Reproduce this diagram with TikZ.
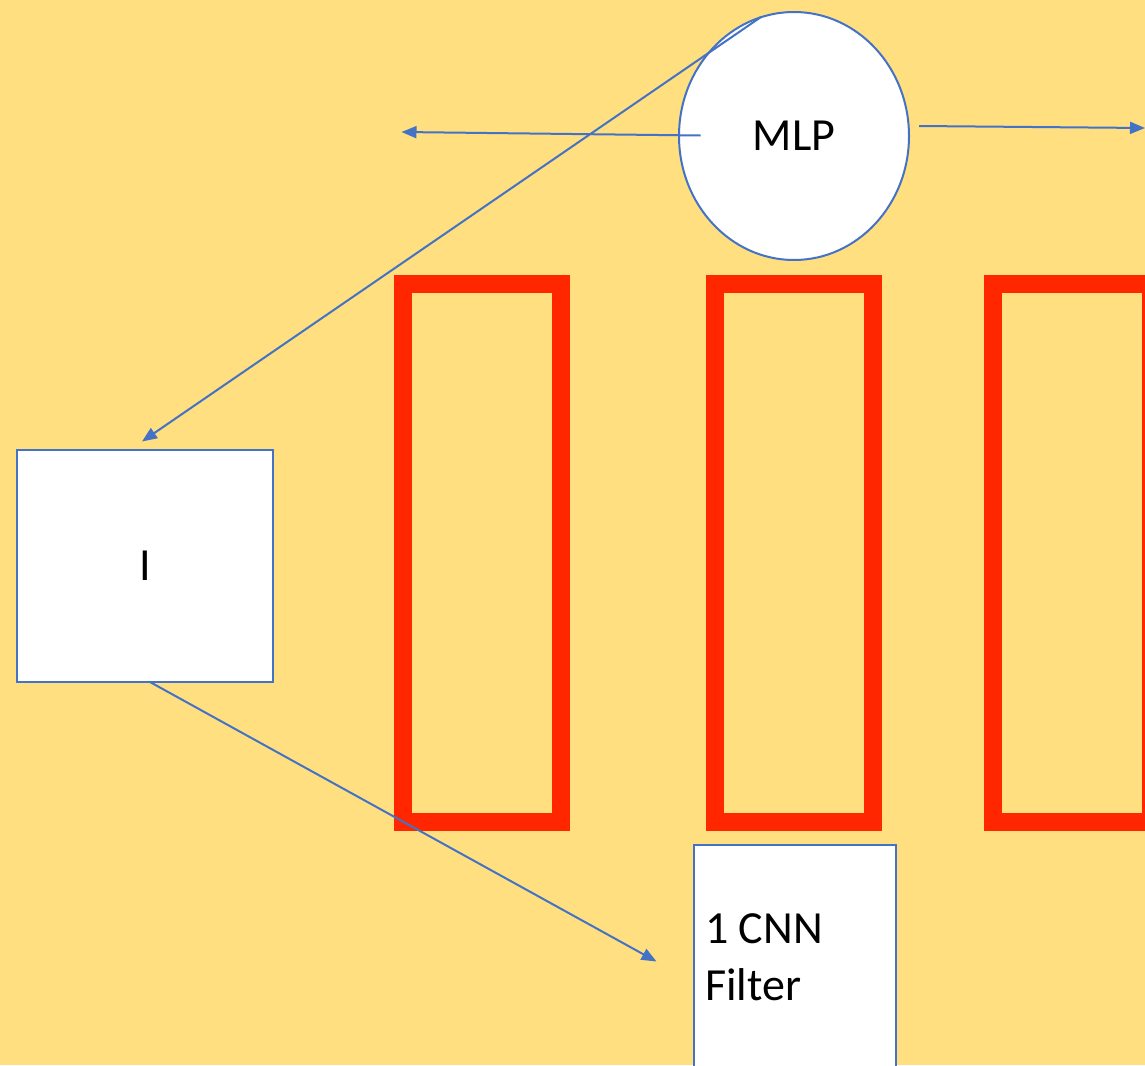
\documentclass[tikz,border=0pt]{standalone}
\usepackage{fontspec}
\setmainfont{Carlito}
\usetikzlibrary{shapes.geometric,arrows.meta}
\definecolor{bgyellow}{RGB}{255,223,128}
\definecolor{edgeblue}{RGB}{68,114,196}
\definecolor{boxred}{RGB}{255,38,0}
\tikzset{
  bigtext/.style={font=\fontsize{46}{57}\selectfont, text=black},
  mlpnode/.style={ellipse, draw=edgeblue, line width=2pt, fill=white, inner sep=0pt, minimum width=230pt, minimum height=248pt, bigtext},
  whitebox/.style={rectangle, draw=edgeblue, line width=2pt, fill=white, inner sep=0pt, bigtext},
  redframe/.style={draw=boxred, line width=18.5pt},
  conn/.style={draw=edgeblue, line width=2pt, -{Triangle[length=15pt,width=12pt]}},
}
\begin{document}
\begin{tikzpicture}[x=1pt,y=-1pt]
\useasboundingbox (0,0) rectangle (1145,1065);
\clip (0,0) rectangle (1145,1065);
\fill[bgyellow] (0,0) rectangle (1145,1065);
% red frames
\draw[redframe] (403,284) rectangle (561,822);
\draw[redframe] (715,284) rectangle (873,822);
\draw[redframe] (993,284) rectangle (1151,822);
% nodes
\node[mlpnode] (mlp) at (794,136) {MLP};
\node[whitebox, minimum width=256pt, minimum height=232pt] (inp) at (145,566) {I};
\node[whitebox, anchor=north west, minimum width=202pt, minimum height=260pt] (cnn) at (693,844) {};
\node[bigtext, anchor=base west, align=left, inner sep=0pt] (cnntext) at (705,1000) {1 CNN\\Filter};
% connector end points
\coordinate (mlpL) at (700.5,135.5);
\coordinate (tipL) at (401.5,132);
\coordinate (mlpR) at (919,126);
\coordinate (tipR) at (1145,128);
\coordinate (mlpT) at (761,17);
\coordinate (tipI) at (142,441.5);
\coordinate (inB) at (150,682);
\coordinate (tipC) at (656.5,961.5);
% connectors
\draw[conn] (mlpL) -- (tipL);
\draw[conn] (mlpR) -- (tipR);
\draw[conn] (mlpT) -- (tipI);
\draw[conn] (inB) -- (tipC);
\end{tikzpicture}
\end{document}
